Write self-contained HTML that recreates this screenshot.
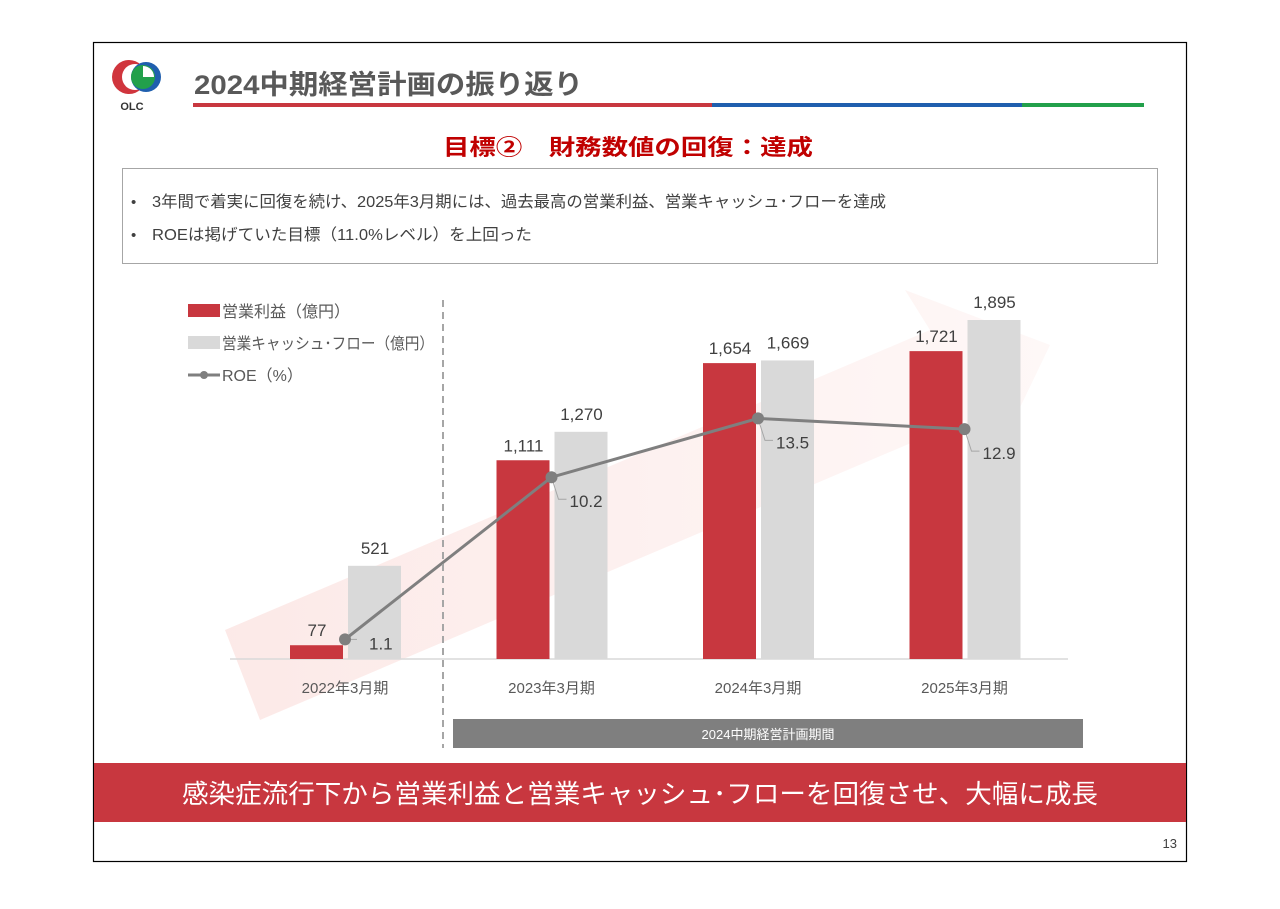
<!DOCTYPE html>
<html><head><meta charset="utf-8">
<style>
body{margin:0;background:#fff;}
svg text{font-family:"Liberation Sans","Noto Sans CJK JP",sans-serif;}
</style></head>
<body>
<svg width="1280" height="904" viewBox="0 0 1280 904" xmlns="http://www.w3.org/2000/svg" id="slide">
<defs>
<linearGradient id="arrowGrad" x1="0" y1="0" x2="1" y2="0">
<stop offset="0" stop-color="#e84a3a" stop-opacity="0.12"/>
<stop offset="1" stop-color="#e84a3a" stop-opacity="0.04"/>
</linearGradient>
</defs>
<rect x="93.5" y="42.5" width="1093" height="819" fill="#fff" stroke="#000" stroke-width="1.2"/>
<g>
<circle cx="129" cy="77" r="17" fill="#d0353d"/>
<circle cx="135" cy="77" r="13" fill="#fff"/>
<circle cx="146" cy="77" r="15" fill="#1f5fae"/>
<circle cx="143" cy="77" r="12" fill="#22a04b"/>
<path d="M143 77 L143 66 A11 11 0 0 1 154 77 Z" fill="#fff"/>
<text x="132" y="110" font-size="11" font-weight="bold" fill="#333" text-anchor="middle">OLC</text>
</g>
<text x="194" y="94" font-size="27" font-weight="bold" fill="#595959" textLength="389" lengthAdjust="spacingAndGlyphs">2024中期経営計画の振り返り</text>
<rect x="193" y="103" width="519" height="4" fill="#c8373f"/>
<rect x="712" y="103" width="310" height="4" fill="#1f5fae"/>
<rect x="1022" y="103" width="122" height="4" fill="#22a04b"/>
<text x="443" y="155" font-size="22" font-weight="bold" fill="#c00000" textLength="370" lengthAdjust="spacingAndGlyphs">目標②　財務数値の回復：達成</text>
<rect x="122.5" y="168.5" width="1035" height="95" fill="#fff" stroke="#a6a6a6"/>
<text x="131" y="207" font-size="15" fill="#404040">•</text>
<text x="152" y="207" font-size="16" fill="#404040" textLength="734" lengthAdjust="spacingAndGlyphs">3年間で着実に回復を続け、2025年3月期には、過去最高の営業利益、営業キャッシュ･フローを達成</text>
<text x="131" y="240" font-size="15" fill="#404040">•</text>
<text x="152" y="240" font-size="16" fill="#404040" textLength="380" lengthAdjust="spacingAndGlyphs">ROEは掲げていた目標（11.0%レベル）を上回った</text>

<polygon points="225,630 930,330 905,290 1050,345 990,470 965,420 260,720" fill="url(#arrowGrad)"/>

<g id="chart"></g>

<line x1="443" y1="300" x2="443" y2="748" stroke="#a6a6a6" stroke-width="2" stroke-dasharray="7,5"/>
<g>
<rect x="188" y="304" width="32" height="13" fill="#c8373f"/>
<text x="222" y="317" font-size="16" fill="#595959">営業利益（億円）</text>
<rect x="188" y="336" width="32" height="13" fill="#d9d9d9"/>
<text x="222" y="349" font-size="16" fill="#595959" textLength="212" lengthAdjust="spacingAndGlyphs">営業キャッシュ･フロー（億円）</text>
<line x1="188" y1="375" x2="220" y2="375" stroke="#7f7f7f" stroke-width="3"/>
<circle cx="204" cy="375" r="4" fill="#7f7f7f"/>
<text x="222" y="381" font-size="16" fill="#595959">ROE（%）</text>
</g>
<rect x="453" y="719" width="630" height="29" fill="#7f7f7f"/>
<text x="768" y="739" font-size="13" fill="#fff" text-anchor="middle">2024中期経営計画期間</text>
<rect x="94" y="763" width="1092" height="59" fill="#c8373f"/>
<text x="182" y="803" font-size="26" fill="#fff" textLength="916" lengthAdjust="spacingAndGlyphs">感染症流行下から営業利益と営業キャッシュ･フローを回復させ、大幅に成長</text>
<text x="1177" y="848" font-size="13" fill="#404040" text-anchor="end">13</text>
</svg>
<script>
const categories = ["2022年3月期","2023年3月期","2024年3月期","2025年3月期"];
const operatingProfit = [77, 1111, 1654, 1721];
const cashFlow = [521, 1270, 1669, 1895];
const roe = [1.1, 10.2, 13.5, 12.9];
const profitLabels = ["77","1,111","1,654","1,721"];
const cashLabels = ["521","1,270","1,669","1,895"];
const roeLabels = ["1.1","10.2","13.5","12.9"];

const NS = "http://www.w3.org/2000/svg";
const g = document.getElementById('chart');
const base = 659;
const xCenter = i => 345 + i * 206.5;
const yBar = v => base - v * (339 / 1895);
const yRoe = v => base - v * 17.82;
function mk(tag, attrs, parent){const e=document.createElementNS(NS,tag);for(const k in attrs)e.setAttribute(k,attrs[k]);(parent||g).appendChild(e);return e;}

const axis = mk('line',{x1:230,y1:base,x2:1068,y2:base,stroke:'#d9d9d9','stroke-width':1.5});



categories.forEach((c,i)=>{
  const cx = xCenter(i);
  const r = mk('rect',{x:cx-55,y:yBar(operatingProfit[i]),width:53,height:base-yBar(operatingProfit[i]),fill:'#c8373f'});
  
  
  const gr = mk('rect',{x:cx+3,y:yBar(cashFlow[i]),width:53,height:base-yBar(cashFlow[i]),fill:'#d9d9d9'});
  
  
  const t1 = mk('text',{x:cx-28,y:yBar(operatingProfit[i])-9,'font-size':17,fill:'#404040','text-anchor':'middle'});
  t1.textContent = profitLabels[i];
  
  
  const t2 = mk('text',{x:cx+30,y:yBar(cashFlow[i])-12,'font-size':17,fill:'#404040','text-anchor':'middle'});
  t2.textContent = cashLabels[i];
  
  
  const xl = mk('text',{x:cx,y:693,'font-size':15,fill:'#595959','text-anchor':'middle'});
  xl.textContent = c;
  
  
});

const pts = roe.map((v,i)=>xCenter(i)+','+yRoe(v)).join(' ');
const line = mk('polyline',{points:pts,fill:'none',stroke:'#7f7f7f','stroke-width':3});


roe.forEach((v,i)=>{
  const x = xCenter(i), y = yRoe(v);
  const ld = mk('polyline',{points:`${x},${y} ${x+7},${y+22} ${x+15},${y+22}`,fill:'none',stroke:'#a6a6a6','stroke-width':1});
  if(i===0){ld.setAttribute('points',`${x},${y} ${x+12},${y}`);}
  
  
  const p = mk('circle',{cx:x,cy:y,r:6,fill:'#7f7f7f'});
  
  
  const t = mk('text',{x:i===0?x+24:x+18,y:i===0?y+10:y+30,'font-size':17,fill:'#404040'});
  t.textContent = roeLabels[i];
  
  
});
</script>
</body></html>
